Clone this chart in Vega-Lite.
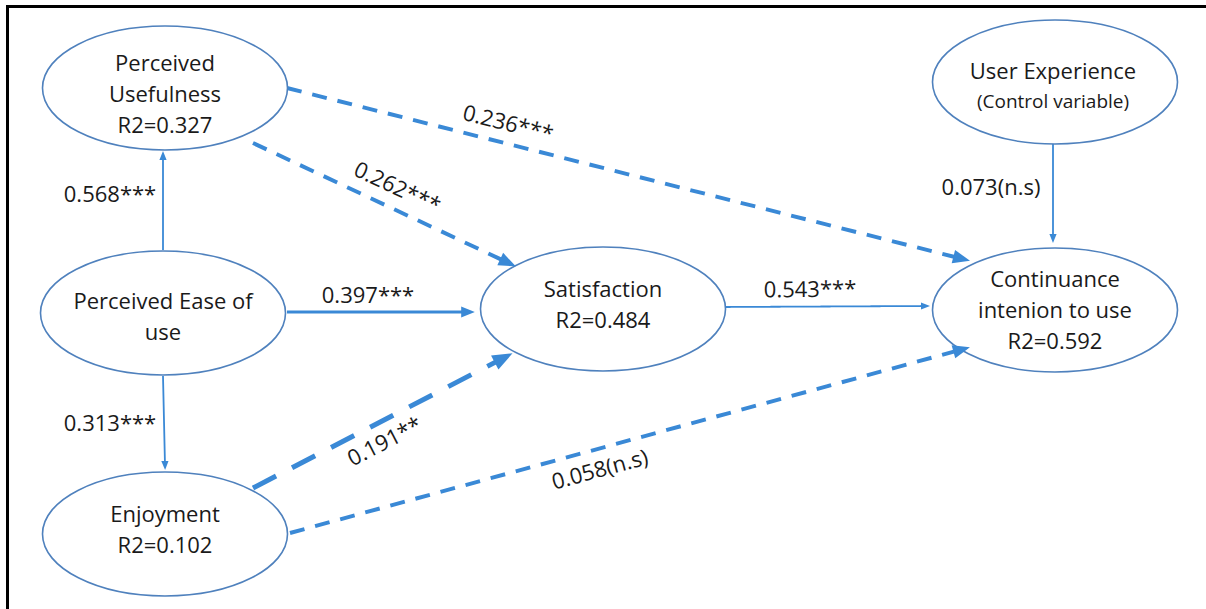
{
  "$schema": "https://vega.github.io/schema/vega-lite/v6.json",
  "width": 1203,
  "height": 607,
  "autosize": {"type": "none"},
  "padding": {"left": 7, "top": 6, "right": -4, "bottom": -4},
  "background": "white",
  "config": {
    "view": {"stroke": null},
    "font": "Open Sans",
    "axis": {"labels": false, "ticks": false, "grid": false, "title": null, "domain": false}
  },
  "resolve": {"axis": {"x": "independent", "y": "independent"}},
  "datasets": {
    "nodes": [
      {"node": "Perceived Usefulness", "x": 165, "y": 88},
      {"node": "User Experience", "x": 1055, "y": 82},
      {"node": "Perceived Ease of use", "x": 163, "y": 313},
      {"node": "Satisfaction", "x": 603, "y": 309},
      {"node": "Continuance intenion to use", "x": 1055, "y": 310},
      {"node": "Enjoyment", "x": 165, "y": 534}
    ],
    "texts": [
      {"text": "Perceived\nUsefulness\nR2=0.327", "x": 165, "y": 64, "kind": "node"},
      {"text": "User Experience", "x": 1053, "y": 72, "kind": "node"},
      {"text": "(Control variable)", "x": 1053, "y": 102, "kind": "note"},
      {"text": "Perceived Ease of\nuse", "x": 163, "y": 302, "kind": "node"},
      {"text": "Satisfaction\nR2=0.484", "x": 603, "y": 290, "kind": "node"},
      {"text": "Continuance\nintenion to use\nR2=0.592", "x": 1055, "y": 280, "kind": "node"},
      {"text": "Enjoyment\nR2=0.102", "x": 165, "y": 515, "kind": "node"}
    ],
    "edges": [
      {"from": "Perceived Ease of use", "to": "Perceived Usefulness", "coef": "0.568***", "x": 163, "y": 250, "x2": 163, "y2": 155.5, "lx": 110, "ly": 195, "line": "solid-thin"},
      {"from": "Perceived Ease of use", "to": "Enjoyment", "coef": "0.313***", "x": 163, "y": 376, "x2": 165, "y2": 465.5, "lx": 110, "ly": 424, "line": "solid-thin"},
      {"from": "User Experience", "to": "Continuance intenion to use", "coef": "0.073(n.s)", "x": 1053, "y": 143, "x2": 1053, "y2": 238.5, "lx": 991, "ly": 188, "line": "solid-thin"},
      {"from": "Perceived Usefulness", "to": "Continuance intenion to use", "coef": "0.236***", "x": 287, "y": 88, "x2": 961.7, "y2": 258.7, "lx": 508, "ly": 124, "line": "dash"},
      {"from": "Perceived Usefulness", "to": "Satisfaction", "coef": "0.262***", "x": 253, "y": 143, "x2": 508, "y2": 262.7, "lx": 397, "ly": 188, "line": "dash"},
      {"from": "Perceived Ease of use", "to": "Satisfaction", "coef": "0.397***", "x": 287, "y": 312, "x2": 468, "y2": 312, "lx": 368, "ly": 296, "line": "solid-thick"},
      {"from": "Enjoyment", "to": "Satisfaction", "coef": "0.191**", "x": 253, "y": 488, "x2": 503.6, "y2": 357.9, "lx": 385, "ly": 442, "line": "dash-thick"},
      {"from": "Satisfaction", "to": "Continuance intenion to use", "coef": "0.543***", "x": 725, "y": 307, "x2": 925.5, "y2": 306, "lx": 810, "ly": 290, "line": "solid-thin"},
      {"from": "Enjoyment", "to": "Continuance intenion to use", "coef": "0.058(n.s)", "x": 290, "y": 533, "x2": 961.7, "y2": 349.5, "lx": 600, "ly": 470, "line": "dash"}
    ]
  },
  "layer": [
    {
      "data": {"name": "edges"},
      "mark": {"type": "rule", "color": "#3a89d6"},
      "encoding": {
        "x": {"field": "x", "type": "quantitative", "scale": {"domain": [7, 1210], "nice": false, "zero": false}, "axis": {"orient": "top", "domain": true, "domainColor": "#000000", "domainWidth": 3, "domainCap": "square"}},
        "y": {"field": "y", "type": "quantitative", "scale": {"domain": [6, 613], "nice": false, "zero": false, "reverse": true}, "axis": {"orient": "left", "domain": true, "domainColor": "#000000", "domainWidth": 3, "domainCap": "square"}},
        "x2": {"field": "x2"},
        "y2": {"field": "y2"},
        "strokeWidth": {"field": "line", "type": "nominal", "scale": {"domain": ["solid-thin", "solid-thick", "dash", "dash-thick"], "range": [1.8, 5, 3.2, 6.5]}, "legend": null},
        "strokeDash": {"field": "line", "type": "nominal", "scale": {"domain": ["solid-thin", "solid-thick", "dash", "dash-thick"], "range": [[1, 0], [1, 0], [15, 11], [26, 18]]}, "legend": null}
      }
    },
    {
      "data": {"name": "nodes"},
      "mark": {"type": "point", "shape": "M -1 0 A 1 0.506 0 1 1 1 0 A 1 0.506 0 1 1 -1 0 Z", "filled": true, "fill": "white", "stroke": "#4f81bd", "strokeWidth": 1.6, "opacity": 1, "fillOpacity": 1, "size": 60025},
      "encoding": {
        "x": {"field": "x", "type": "quantitative", "axis": null},
        "y": {"field": "y", "type": "quantitative", "axis": null}
      }
    },
    {
      "data": {"name": "edges"},
      "transform": [
        {"calculate": "atan2(datum.y2 - datum.y, datum.x2 - datum.x) * 180 / PI", "as": "dir"}
      ],
      "mark": {"type": "point", "shape": "M 1 0 L -1 -0.8 L -1 0.8 Z", "filled": true, "color": "#3a89d6", "opacity": 1},
      "encoding": {
        "x": {"field": "x2", "type": "quantitative", "axis": null},
        "y": {"field": "y2", "type": "quantitative", "axis": null},
        "angle": {"field": "dir", "type": "quantitative", "scale": null},
        "size": {"field": "line", "type": "nominal", "scale": {"domain": ["solid-thin", "solid-thick", "dash", "dash-thick"], "range": [81, 400, 121, 450]}, "legend": null}
      }
    },
    {
      "data": {"name": "texts"},
      "transform": [{"filter": "datum.kind === 'node'"}],
      "mark": {"type": "text", "align": "center", "baseline": "middle", "lineBreak": "\n", "lineHeight": 31, "color": "#1a1a1a", "font": "Open Sans", "fontSize": 22},
      "encoding": {
        "x": {"field": "x", "type": "quantitative", "axis": null},
        "y": {"field": "y", "type": "quantitative", "axis": null},
        "text": {"field": "text"}
      }
    },
    {
      "data": {"name": "texts"},
      "transform": [{"filter": "datum.kind === 'note'"}],
      "mark": {"type": "text", "align": "center", "baseline": "middle", "color": "#1a1a1a", "font": "Open Sans", "fontSize": 19},
      "encoding": {
        "x": {"field": "x", "type": "quantitative", "axis": null},
        "y": {"field": "y", "type": "quantitative", "axis": null},
        "text": {"field": "text"}
      }
    },
    {
      "data": {"name": "edges"},
      "transform": [
        {"calculate": "atan2(datum.y2 - datum.y, datum.x2 - datum.x) * 180 / PI", "as": "dir"},
        {"calculate": "abs(datum.dir) > 45 ? 0 : datum.dir", "as": "tilt"}
      ],
      "mark": {"type": "text", "align": "center", "baseline": "middle", "color": "#1a1a1a", "font": "Open Sans", "fontSize": 22},
      "encoding": {
        "x": {"field": "lx", "type": "quantitative", "axis": null},
        "y": {"field": "ly", "type": "quantitative", "axis": null},
        "text": {"field": "coef"},
        "angle": {"field": "tilt", "type": "quantitative", "scale": null}
      }
    }
  ]
}
